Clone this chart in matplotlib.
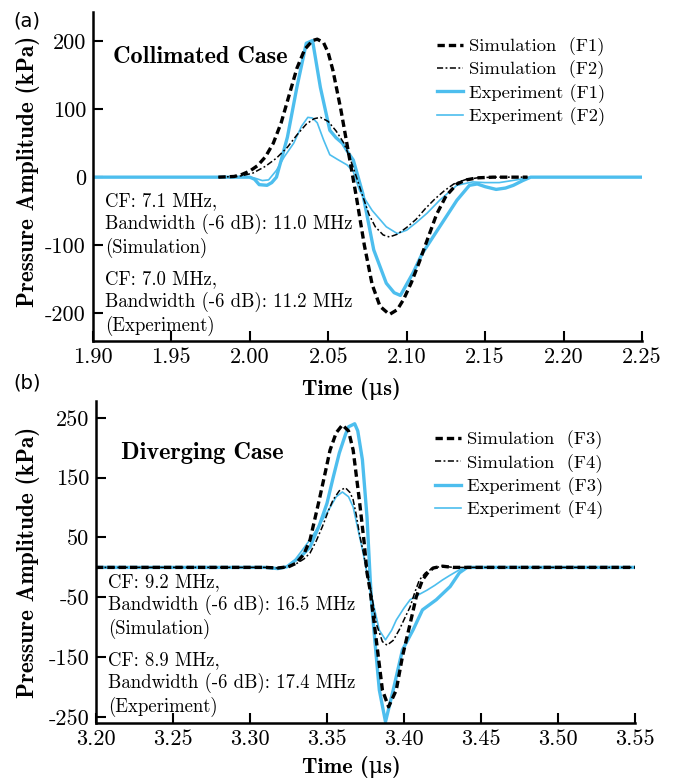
import matplotlib
matplotlib.use("Agg")
import matplotlib.pyplot as plt

plt.rcParams['font.family'] = ['cmr10', 'DejaVu Serif']
plt.rcParams['axes.unicode_minus'] = False
plt.rcParams['mathtext.fontset'] = 'cm'

BLUE = "#4DBEEE"

# ---- panel (a): collimated case ----
t_sim_f1 = [1.980, 1.990, 1.995, 2.000, 2.005, 2.010, 2.015, 2.020, 2.025, 2.030, 2.035, 2.040, 2.043,
            2.047, 2.050, 2.053, 2.058, 2.063, 2.068, 2.073, 2.078, 2.083, 2.089, 2.094, 2.098, 2.103,
            2.108, 2.113, 2.119, 2.125, 2.132, 2.138, 2.145, 2.155, 2.177]
p_sim_f1 = [0, 1, 4, 9, 17, 30, 50, 80, 120, 160, 188, 201, 203,
            198, 183, 157, 100, 35, -30, -100, -158, -190, -202, -195, -180, -155,
            -125, -93, -55, -28, -10, -4, -1, 0, 0]

t_sim_f2 = [1.980, 1.990, 1.995, 2.002, 2.010, 2.017, 2.024, 2.030, 2.036, 2.041, 2.045, 2.050, 2.055,
            2.060, 2.064, 2.068, 2.072, 2.076, 2.080, 2.085, 2.089, 2.094, 2.100, 2.106, 2.112, 2.118,
            2.124, 2.130, 2.137, 2.145, 2.155, 2.177]
p_sim_f2 = [0, 1, 2, 6, 16, 28, 44, 62, 78, 86, 88, 82, 68,
            50, 27, 0, -28, -55, -73, -85, -88, -84, -74, -62, -46, -32,
            -20, -10, -4, -1, 0, 0]

t_exp_f1 = [1.900, 2.000, 2.003, 2.006, 2.011, 2.014, 2.017, 2.020, 2.024, 2.030, 2.036, 2.040, 2.045,
            2.051, 2.055, 2.059, 2.063, 2.066, 2.072, 2.079, 2.087, 2.092, 2.096, 2.104, 2.110, 2.121,
            2.132, 2.140, 2.145, 2.150, 2.157, 2.163, 2.168, 2.174, 2.179, 2.250]
p_exp_f1 = [0, 0, -3, -11, -12, -8, 0, 25, 59, 132, 197, 201, 132,
            69, 58, 50, 35, 25, -24, -107, -156, -170, -174, -141, -112, -73,
            -34, -12, -10, -14, -18, -16, -12, -5, 0, 0]

t_exp_f2 = [1.900, 2.000, 2.004, 2.008, 2.012, 2.017, 2.022, 2.028, 2.033, 2.037, 2.040, 2.043, 2.047,
            2.051, 2.056, 2.062, 2.066, 2.070, 2.078, 2.087, 2.094, 2.100, 2.106, 2.113, 2.121, 2.132,
            2.142, 2.150, 2.159, 2.170, 2.179, 2.250]
p_exp_f2 = [0, 0, -2, -5, -4, 10, 30, 50, 75, 88, 87, 80, 55,
            33, 26, 18, 8, -20, -49, -73, -83, -78, -67, -53, -34, -12,
            -7, -8, -8, -4, 0, 0]

# ---- panel (b): diverging case ----
t_sim_f3 = [3.200, 3.310, 3.318, 3.325, 3.330, 3.335, 3.339, 3.345, 3.349, 3.352, 3.356, 3.360, 3.364,
            3.367, 3.371, 3.374, 3.376, 3.378, 3.382, 3.386, 3.390, 3.395, 3.399, 3.404, 3.408, 3.412,
            3.416, 3.419, 3.425, 3.432, 3.550]
p_sim_f3 = [0, 0, -1, 1, 7, 22, 46, 113, 160, 196, 225, 238, 228,
            196, 113, 45, -9, -38, -121, -205, -233, -205, -149, -94, -49, -21,
            -7, -1, 2, 0, 0]

t_sim_f4 = [3.200, 3.310, 3.318, 3.325, 3.330, 3.335, 3.339, 3.343, 3.347, 3.351, 3.354, 3.358, 3.362,
            3.365, 3.367, 3.369, 3.371, 3.374, 3.376, 3.379, 3.382, 3.386, 3.389, 3.393, 3.397, 3.401,
            3.404, 3.407, 3.410, 3.414, 3.417, 3.421, 3.425, 3.432, 3.550]
p_sim_f4 = [0, 0, -1, 1, 6, 14, 24, 44, 68, 95, 113, 128, 133,
            125, 113, 88, 57, 20, -9, -45, -94, -124, -130, -122, -104, -82,
            -66, -42, -21, -9, -4, 0, 2, 0, 0]

t_exp_f3 = [3.200, 3.310, 3.318, 3.324, 3.328, 3.333, 3.339, 3.345, 3.350, 3.354, 3.358, 3.362, 3.364,
            3.368, 3.370, 3.373, 3.376, 3.378, 3.379, 3.381, 3.384, 3.388, 3.393, 3.399, 3.406, 3.412,
            3.421, 3.430, 3.436, 3.441, 3.550]
p_exp_f3 = [0, 0, -2, 1, 9, 18, 34, 70, 107, 150, 191, 222, 235,
            240, 228, 180, 84, -16, -60, -120, -205, -258, -205, -138, -104, -71,
            -54, -32, -9, 0, 0]

t_exp_f4 = [3.200, 3.310, 3.318, 3.324, 3.329, 3.334, 3.340, 3.347, 3.352, 3.356, 3.360, 3.364, 3.367,
            3.370, 3.373, 3.376, 3.380, 3.384, 3.388, 3.392, 3.395, 3.400, 3.404, 3.410, 3.415, 3.420,
            3.425, 3.430, 3.436, 3.441, 3.550]
p_exp_f4 = [0, 0, -2, 1, 12, 29, 50, 79, 100, 118, 126, 118, 101,
            65, 30, -10, -60, -105, -121, -105, -88, -68, -54, -45, -38, -30,
            -21, -13, -4, 0, 0]

xticks_a = [1.90, 1.95, 2.00, 2.05, 2.10, 2.15, 2.20, 2.25]
yticks_a = [200, 100, 0, -100, -200]
xticks_b = [3.20, 3.25, 3.30, 3.35, 3.40, 3.45, 3.50, 3.55]
yticks_b = [250, 150, 50, -50, -150, -250]

notes_a = ["CF: 7.1 MHz,\nBandwidth (-6 dB): 11.0 MHz\n(Simulation)",
           "CF: 7.0 MHz,\nBandwidth (-6 dB): 11.2 MHz\n(Experiment)"]
notes_b = ["CF: 9.2 MHz,\nBandwidth (-6 dB): 16.5 MHz\n(Simulation)",
           "CF: 8.9 MHz,\nBandwidth (-6 dB): 17.4 MHz\n(Experiment)"]

THICK_DASH = (0, (2.2, 1.2))
THIN_DASHDOT = (0, (4, 1.6, 1.2, 1.6))

fig = plt.figure(figsize=(6.73, 7.79), dpi=100)
ax_a = fig.add_axes([0.138, 0.5623, 0.816, 0.4223])
ax_b = fig.add_axes([0.1426, 0.0719, 0.8009, 0.4133])


def draw_panel(ax, sims, exps, tags, xticks, yticks, xlim, ylim, title, notes, title_pos,
               legend_pos, ylab_pos, xlab_pos):
    ax.plot(exps[0][0], exps[0][1], color=BLUE, lw=2.4, label=f"Experiment ({tags[0]})", zorder=2)
    ax.plot(exps[1][0], exps[1][1], color=BLUE, lw=1.2, label=f"Experiment ({tags[1]})", zorder=2)
    ax.plot(sims[0][0], sims[0][1], color="black", lw=2.4, ls=THICK_DASH,
            label=f"Simulation  ({tags[0]})", zorder=3)
    ax.plot(sims[1][0], sims[1][1], color="black", lw=1.1, ls=THIN_DASHDOT,
            label=f"Simulation  ({tags[1]})", zorder=3)

    ax.set_xlim(*xlim)
    ax.set_ylim(*ylim)
    ax.set_xticks(xticks)
    ax.set_xticklabels([f"{v:.2f}" for v in xticks])
    ax.set_yticks(yticks)
    ax.set_yticklabels([str(v) for v in yticks])
    ax.tick_params(direction="in", length=7, width=1.5, labelsize=16, pad=5)
    for s in ["top", "right"]:
        ax.spines[s].set_visible(False)
    for s in ["left", "bottom"]:
        ax.spines[s].set_linewidth(1.8)

    ax.set_ylabel("Pressure Amplitude (kPa)", family=["cmb10", "DejaVu Serif"], fontsize=16.8)
    ax.yaxis.set_label_coords(*ylab_pos)
    ax.set_xlabel("Time (\u03bcs)", family=["cmb10", "DejaVu Serif"], fontsize=16)
    ax.xaxis.set_label_coords(*xlab_pos)

    ax.text(title_pos[0], title_pos[1], title, transform=ax.transAxes, family="cmb10",
            fontsize=17.5, va="center", ha="left")
    ax.text(0.022, title_pos[2], notes[0], transform=ax.transAxes, fontsize=13.5,
            va="center", ha="left", linespacing=1.25)
    ax.text(0.022, title_pos[3], notes[1], transform=ax.transAxes, fontsize=13.5,
            va="center", ha="left", linespacing=1.25)

    handles, labels = ax.get_legend_handles_labels()
    order = [2, 3, 0, 1]
    ax.legend([handles[i] for i in order], [labels[i] for i in order],
              loc="upper left", bbox_to_anchor=legend_pos, frameon=False,
              fontsize=13.4, handlelength=1.4, handletextpad=0.3, labelspacing=0.25,
              borderpad=0, borderaxespad=0)


draw_panel(ax_a, [(t_sim_f1, p_sim_f1), (t_sim_f2, p_sim_f2)],
           [(t_exp_f1, p_exp_f1), (t_exp_f2, p_exp_f2)], ["F1", "F2"],
           xticks_a, yticks_a, (1.90, 2.25), (-241, 243), "Collimated Case", notes_a,
           (0.036, 0.863, 0.352, 0.115), (0.627, 0.923), (-0.097, 0.515), (0.47, -0.112))

draw_panel(ax_b, [(t_sim_f3, p_sim_f3), (t_sim_f4, p_sim_f4)],
           [(t_exp_f3, p_exp_f3), (t_exp_f4, p_exp_f4)], ["F3", "F4"],
           xticks_b, yticks_b, (3.20, 3.55), (-260, 278), "Diverging Case", notes_b,
           (0.046, 0.8385, 0.3635, 0.1212), (0.629, 0.908), (-0.104, 0.5), (0.473, -0.103))

fig.text(13 / 673, 1 - 21 / 779, "(a)", family="DejaVu Sans", fontsize=14, va="center", ha="left")
fig.text(13 / 673, 1 - 383 / 779, "(b)", family="DejaVu Sans", fontsize=14, va="center", ha="left")

fig.savefig("out.png", dpi=100)
